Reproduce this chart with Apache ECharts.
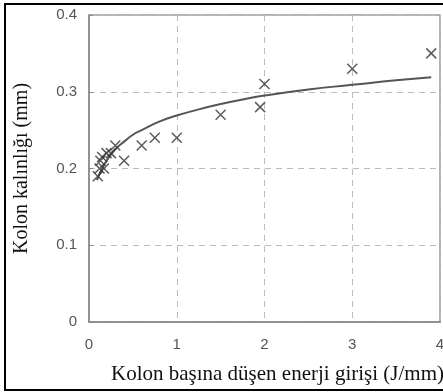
<!DOCTYPE html>
<html>
<head>
<meta charset="utf-8">
<script src="https://cdn.jsdelivr.net/npm/echarts@6/dist/echarts.min.js"></script>
<style>html,body{margin:0;padding:0;background:#fff}#c{width:443px;height:392px}</style>
</head>
<body>
<div id="c"></div>
<script>
var measX = [0.1, 0.12, 0.13, 0.15, 0.17, 0.2, 0.25, 0.3, 0.4, 0.6, 0.75, 1.0, 1.5, 1.95, 2.0, 3.0, 3.9];
var measY = [0.19, 0.2, 0.21, 0.215, 0.2, 0.22, 0.22, 0.23, 0.21, 0.23, 0.24, 0.24, 0.27, 0.28, 0.31, 0.33, 0.35];
var fitX = [0.09, 0.15, 0.2, 0.3, 0.4, 0.5, 0.6, 0.8, 1.0, 1.25, 1.5, 1.75, 2.0, 2.5, 3.0, 3.5, 3.9];
var fitY = [0.185, 0.2, 0.21, 0.225, 0.235, 0.244, 0.25, 0.261, 0.269, 0.277, 0.284, 0.29, 0.295, 0.303, 0.309, 0.315, 0.319];
var xTicks = [0, 1, 2, 3, 4];
var yTicks = [0, 0.1, 0.2, 0.3, 0.4];
var xName = 'Kolon başına düşen enerji girişi (J/mm)';
var yName = 'Kolon kalınlığı (mm)';

var chart = echarts.init(document.getElementById('c'));
chart.setOption({
  animation: false,
  grid: {left: 89, top: 15, right: 3, bottom: 70, show: true, borderColor: '#999', borderWidth: 1.5, containLabel: false, outerBoundsMode: 'none'},
  graphic: [{type: 'rect', shape: {x: 5, y: 4, width: 450, height: 386}, style: {fill: 'none', stroke: '#000', lineWidth: 2}, z: 100}],
  xAxis: {
    type: 'value', min: 0, max: 4, interval: 1,
    name: xName, nameLocation: 'end', nameGap: 4,
    nameTextStyle: {fontFamily: 'Liberation Serif', fontSize: 21, color: '#111', align: 'right', verticalAlign: 'top', padding: [42, 0, 0, 0]},
    axisLine: {show: true, lineStyle: {color: '#888', width: 1.5}},
    axisTick: {show: false},
    axisLabel: {fontFamily: 'Liberation Sans', fontSize: 15, color: '#555', margin: 15,
      formatter: function (v) { return xTicks.indexOf(v) >= 0 ? String(v) : ''; }},
    splitLine: {show: true, lineStyle: {color: '#bbb', type: [6, 5], width: 1}}
  },
  yAxis: {
    type: 'value', min: 0, max: 0.4, interval: 0.1,
    name: yName, nameLocation: 'middle', nameGap: 57, nameRotate: 90,
    nameTextStyle: {fontFamily: 'Liberation Serif', fontSize: 20, color: '#111'},
    axisLine: {show: true, lineStyle: {color: '#888', width: 1.5}},
    axisTick: {show: true, inside: true, length: 4, lineStyle: {color: '#888'}},
    axisLabel: {fontFamily: 'Liberation Sans', fontSize: 15, color: '#555', margin: 12,
      formatter: function (v) { var r = Math.round(v * 10) / 10; return r === 0 ? '0' : r.toFixed(1); }},
    splitLine: {show: true, lineStyle: {color: '#bbb', type: [6, 5], width: 1}}
  },
  series: [
    {
      type: 'line', data: fitX.map(function (x, i) { return [x, fitY[i]]; }),
      smooth: true, showSymbol: false, lineStyle: {color: '#555', width: 2}, z: 2
    },
    {
      type: 'scatter', data: measX.map(function (x, i) { return [x, measY[i]]; }),
      symbol: 'path://M0,0L10,10M10,0L0,10', symbolSize: 10,
      itemStyle: {color: 'none', borderColor: '#333', borderWidth: 1.5}, z: 3
    }
  ]
});
</script>
</body>
</html>
